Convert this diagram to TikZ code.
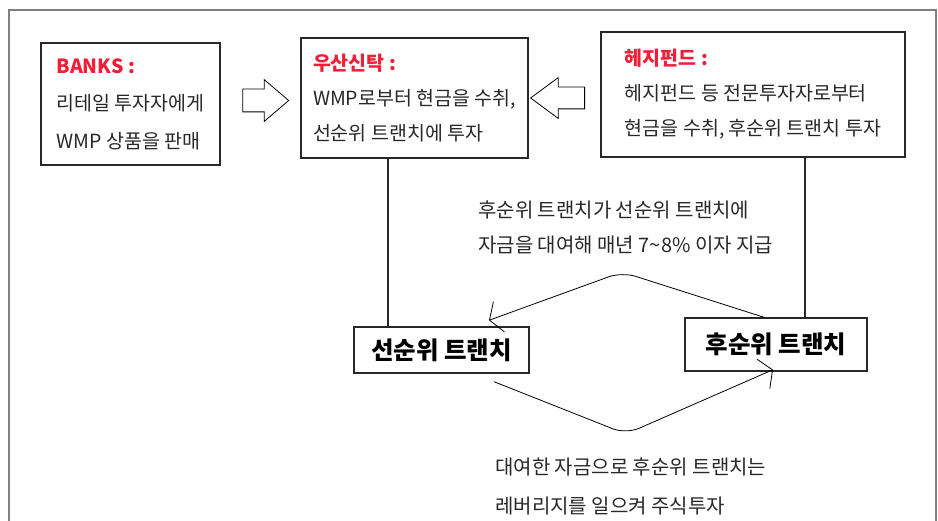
\documentclass[tikz,border=0pt]{standalone}
\usepackage{fontspec}
\setmainfont{Noto Sans CJK KR}
\usetikzlibrary{arrows.meta,shapes.arrows}
\definecolor{titlered}{RGB}{240,30,55}
\definecolor{inkgray}{RGB}{40,40,40}

\begin{document}
\begin{tikzpicture}[x=1pt,y=-1pt,
        infobox/.style={draw=inkgray,line width=1.4pt,align=left,inner sep=0pt,font=\fontsize{19.5}{35}\selectfont,text=inkgray},
        tranche/.style={draw=inkgray,line width=1.4pt,inner sep=0pt,font=\fontsize{24.5}{26}\selectfont\bfseries,text=black},
        hollow/.style={single arrow,draw=black,line width=0.8pt,inner sep=0pt,text height=#1,text depth=0pt,single arrow head extend=9.5pt},
        note/.style={anchor=west,align=left,inner sep=0pt,text=inkgray},
        flow/.style={-{Straight Barb[length=10pt,width=32pt]},line width=0.8pt,rounded corners=14pt}]
        \useasboundingbox (0,0) rectangle (938,521);
        \draw[gray,line width=2pt] (9,10) rectangle (936,560);
        \node [infobox,minimum width=179pt,minimum height=122pt,font=\fontsize{19.5}{37.5}\selectfont] (banks) at (130.5,104) {{\color{titlered}\bfseries BANKS :}\\리테일 투자자에게\\WMP 상품을 판매};
        \node [infobox,minimum width=227pt,minimum height=120pt] (trust) at (414.5,98) {{\color{titlered}\bfseries 우산신탁 :}\\WMP로부터 현금을 수취,\\선순위 트랜치에 투자};
        \node [infobox,minimum width=304pt,minimum height=125pt] (hedge) at (753,94.5) {{\color{titlered}\bfseries 헤지펀드 :}\\헤지펀드 등 전문투자자로부터\\현금을 수취, 후순위 트랜치 투자};
        \node [hollow=22pt,minimum height=46pt,single arrow tip angle=81] (arr1) at (259,100.5) {};
        \node [hollow=21pt,minimum height=54pt,single arrow tip angle=73,shape border rotate=180] (arr2) at (565,98) {};
        \node [tranche,minimum width=175pt,minimum height=46pt] (senior) at (441.5,350) {선순위 트랜치};
        \node [tranche,minimum width=182pt,minimum height=53pt] (junior) at (776,344.5) {후순위 트랜치};
        \node [note,font=\fontsize{20}{35}\selectfont] (note1) at (478,227.5) {후순위 트랜치가 선순위 트랜치에\\자금을 대여해 매년 7\textasciitilde8\% 이자 지급};
        \node [note,font=\fontsize{20}{38.6}\selectfont] (note2) at (495,486.5) {대여한 자금으로 후순위 트랜치는\\레버리지를 일으켜 주식투자};
        \coordinate (crest) at (622,272);
        \coordinate (trough) at (626,434);
        \draw[inkgray,line width=1.2pt] ([xshift=-26.5pt]trust.south) -- ([xshift=-26.5pt]trust.south |- senior.north);
        \draw[inkgray,line width=1.2pt] ([xshift=52pt]hedge.south) -- ([xshift=52pt]hedge.south |- junior.north);
        \draw[flow] ([xshift=-12pt]junior.north) -- (crest) -- ([xshift=47.5pt,yshift=6pt]senior.north);
        \draw[flow] ([xshift=52.5pt,yshift=-8pt]senior.south) -- (trough) -- ([xshift=-3pt,yshift=2pt]junior.south);
\end{tikzpicture}
\end{document}
